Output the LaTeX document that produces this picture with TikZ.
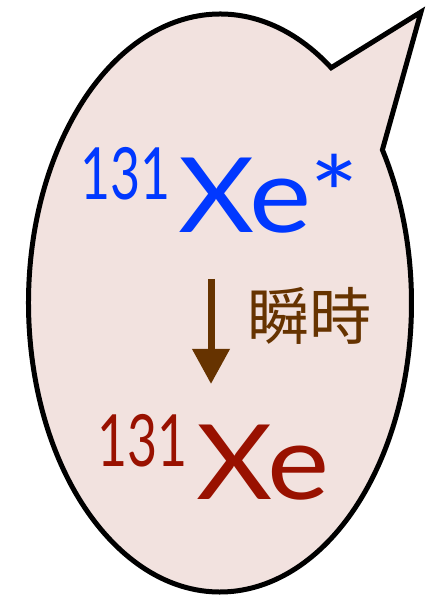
\documentclass[tikz,border=0pt]{standalone}
\usepackage{fontspec}
\setmainfont{Lato}
\newfontfamily\cjk{Noto Sans CJK JP}
\usetikzlibrary{arrows.meta}
\definecolor{bubblefill}{RGB}{242,226,223}
\definecolor{xeblue}{RGB}{0,56,255}
\definecolor{xered}{RGB}{153,17,0}
\definecolor{arrowbrown}{RGB}{102,51,0}
\tikzset{
  bubble/.style={draw=black, line width=5pt, fill=bubblefill, line join=miter},
  isotope/.style={inner sep=0pt, anchor=base west, font=\fontsize{104}{104}\selectfont},
  mass/.style={inner sep=0pt, anchor=base west, font=\fontsize{72}{72}\selectfont},
  decay/.style={draw=arrowbrown, line width=7pt, -{Triangle[width=36pt,length=35pt]}},
  label/.style={inner sep=0pt, anchor=west, text=arrowbrown, font=\cjk\fontsize{62}{62}\selectfont}
}
\begin{document}
\begin{tikzpicture}[x=1pt,y=1pt]
\useasboundingbox (0,0) rectangle (432,597);
% speech bubble: ellipse centre (220,294), radii 191.5 x 289
\path[bubble] ({220+191.5*cos(54.5)},{294+289*sin(54.5)})
  arc[start angle=54.5, end angle=392, x radius=191.5, y radius=289]
  -- (421,585) -- cycle;
\node[mass, text=xeblue] (excitedmass) at (80,397) {\scalebox{0.72}[1]{131}};
\node[isotope, text=xeblue] (excited) at (178,364) {\scalebox{1.13}[1]{Xe*}};
\coordinate (atop) at (211,318);
\coordinate (abot) at (211,213);
\draw[decay] (atop) -- (abot);
\node[label] (instant) at (247,281) {瞬時};
\node[mass, text=xered] (groundmass) at (97,130) {\scalebox{0.72}[1]{131}};
\node[isotope, text=xered] (ground) at (196,97) {\scalebox{1.13}[1]{Xe}};
\end{tikzpicture}
\end{document}
